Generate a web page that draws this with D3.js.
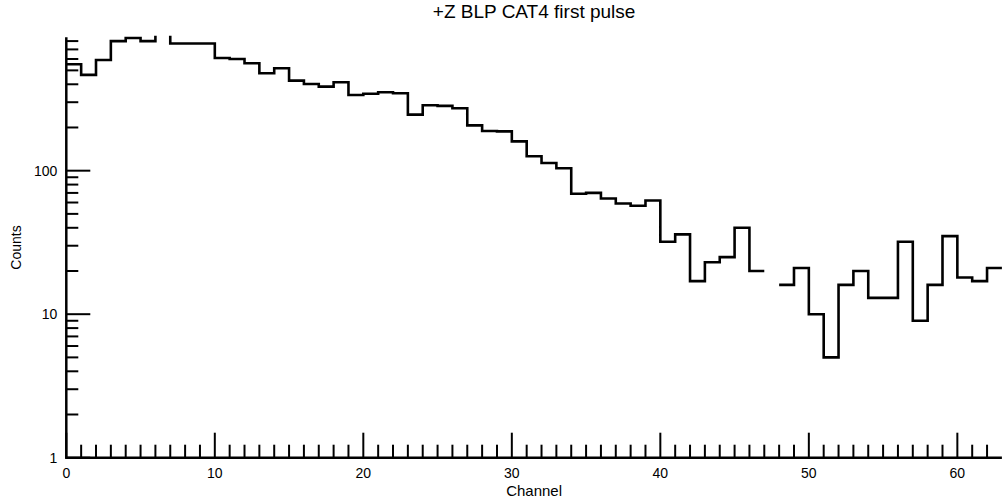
<!DOCTYPE html>
<html>
<head>
<meta charset="utf-8">
<script src="https://cdn.jsdelivr.net/npm/d3@7"></script>
<style>
  html, body { margin: 0; padding: 0; background: #fff; }
  svg { display: block; font-family: "Liberation Sans", Arial, sans-serif; }
</style>
</head>
<body>
<svg id="chart" width="1006" height="502"></svg>
<script>
// Counts per channel (bin i spans channel i .. i+1); null = empty bin.
// Channel 6 overflows the top of the plotted range and is clipped.
const counts = [
  551, 465, 590, 800, 840, 800, 1000, 770, 770, 770,
  610, 600, 560, 477, 517, 424, 402, 385, 413, 337,
  344, 352, 346, 246, 286, 283, 272, 207, 189, 188,
  160, 126, 113, 104, 69, 70, 64, 59, 57, 62,
  32, 36, 17, 23, 25, 40, 20, null, 16, 21,
  10, 5, 16, 20, 13, 13, 32, 9, 16, 35,
  18, 17, 21
];
const xMajorTicks = [0, 10, 20, 30, 40, 50, 60];
const yMajorTicks = [1, 10, 100];
const xDomain = [0, 63];
const yDomain = [1, 850];

const title = "+Z BLP CAT4 first pulse";
const xTitle = "Channel";
const yTitle = "Counts";

const svg = d3.select("#chart");
const plotLeft = 66.3, plotRight = 1001.9, plotTop = 37.3, plotBottom = 457.7;

const x = d3.scaleLinear().domain(xDomain).range([plotLeft, plotRight]);
const y = d3.scaleLog().domain(yDomain).range([plotBottom, plotTop]);

// Minor ticks: every channel on x, 2..9 of each decade on y
const xMinor = d3.range(xDomain[0], xDomain[1]).filter(v => !xMajorTicks.includes(v));
const yMinor = [];
yMajorTicks.forEach(d => { for (let k = 2; k <= 9; k++) if (d * k <= yDomain[1]) yMinor.push(d * k); });

const axisColor = "#000";

// X axis: ticks point up into the plot
const gx = svg.append("g").attr("transform", `translate(0,${plotBottom})`);
gx.selectAll("line.minor").data(xMinor).join("line").attr("class", "minor")
  .attr("x1", d => x(d)).attr("x2", d => x(d))
  .attr("y1", 0).attr("y2", -13)
  .attr("stroke", axisColor).attr("stroke-width", 2);
gx.selectAll("line.major").data(xMajorTicks).join("line").attr("class", "major")
  .attr("x1", d => x(d)).attr("x2", d => x(d))
  .attr("y1", 0).attr("y2", -25)
  .attr("stroke", axisColor).attr("stroke-width", 2);
gx.selectAll("text").data(xMajorTicks).join("text")
  .attr("x", d => x(d)).attr("y", 20.5)
  .attr("text-anchor", "middle")
  .attr("font-size", 14).attr("fill", "#000")
  .text(d => d);
gx.append("line").attr("x1", plotLeft - 1).attr("x2", plotRight).attr("y1", 0).attr("y2", 0)
  .attr("stroke", axisColor).attr("stroke-width", 2.5);

// Y axis: ticks point right into the plot
const gy = svg.append("g").attr("transform", `translate(${plotLeft},0)`);
gy.selectAll("line.minor").data(yMinor).join("line").attr("class", "minor")
  .attr("x1", 0).attr("x2", 12)
  .attr("y1", d => y(d)).attr("y2", d => y(d))
  .attr("stroke", axisColor).attr("stroke-width", 2);
gy.selectAll("line.major").data(yMajorTicks).join("line").attr("class", "major")
  .attr("x1", 0).attr("x2", 24)
  .attr("y1", d => y(d)).attr("y2", d => y(d))
  .attr("stroke", axisColor).attr("stroke-width", 2);
gy.selectAll("text").data(yMajorTicks).join("text")
  .attr("x", -9).attr("y", d => y(d)).attr("dy", "0.36em")
  .attr("text-anchor", "end")
  .attr("font-size", 14).attr("fill", "#000")
  .text(d => d);
gy.append("line").attr("x1", 0).attr("x2", 0).attr("y1", plotTop).attr("y2", plotBottom + 1)
  .attr("stroke", axisColor).attr("stroke-width", 2.5);

// Histogram outline, one path per run of non-empty bins
svg.append("clipPath").attr("id", "plot-clip")
  .append("rect").attr("x", plotLeft).attr("y", plotTop - 1.5)
  .attr("width", plotRight - plotLeft + 2).attr("height", plotBottom - plotTop + 1.5);

const runs = [];
let current = [];
counts.forEach((v, i) => {
  if (v == null) { if (current.length) runs.push(current); current = []; }
  else current.push([i, v]);
});
if (current.length) runs.push(current);

const step = d3.line()
  .x(d => x(d[0]))
  .y(d => y(d[1]))
  .curve(d3.curveStepAfter);

svg.append("g").attr("clip-path", "url(#plot-clip)")
  .selectAll("path").data(runs).join("path")
  .attr("d", run => step(run.concat([[run[run.length - 1][0] + 1, run[run.length - 1][1]]])))
  .attr("fill", "none")
  .attr("stroke", "#000")
  .attr("stroke-width", 2.6)
  .attr("stroke-linejoin", "miter")
  .attr("stroke-linecap", "butt");

// Titles
svg.append("text").attr("x", (plotLeft + plotRight) / 2).attr("y", 18)
  .attr("text-anchor", "middle").attr("font-size", 19).attr("fill", "#000")
  .text(title);
svg.append("text").attr("x", (plotLeft + plotRight) / 2).attr("y", 496)
  .attr("text-anchor", "middle").attr("font-size", 15).attr("fill", "#000")
  .text(xTitle);
svg.append("text")
  .attr("transform", `translate(21,${(plotTop + plotBottom) / 2}) rotate(-90)`)
  .attr("text-anchor", "middle").attr("font-size", 14).attr("fill", "#000")
  .text(yTitle);
</script>
</body>
</html>
